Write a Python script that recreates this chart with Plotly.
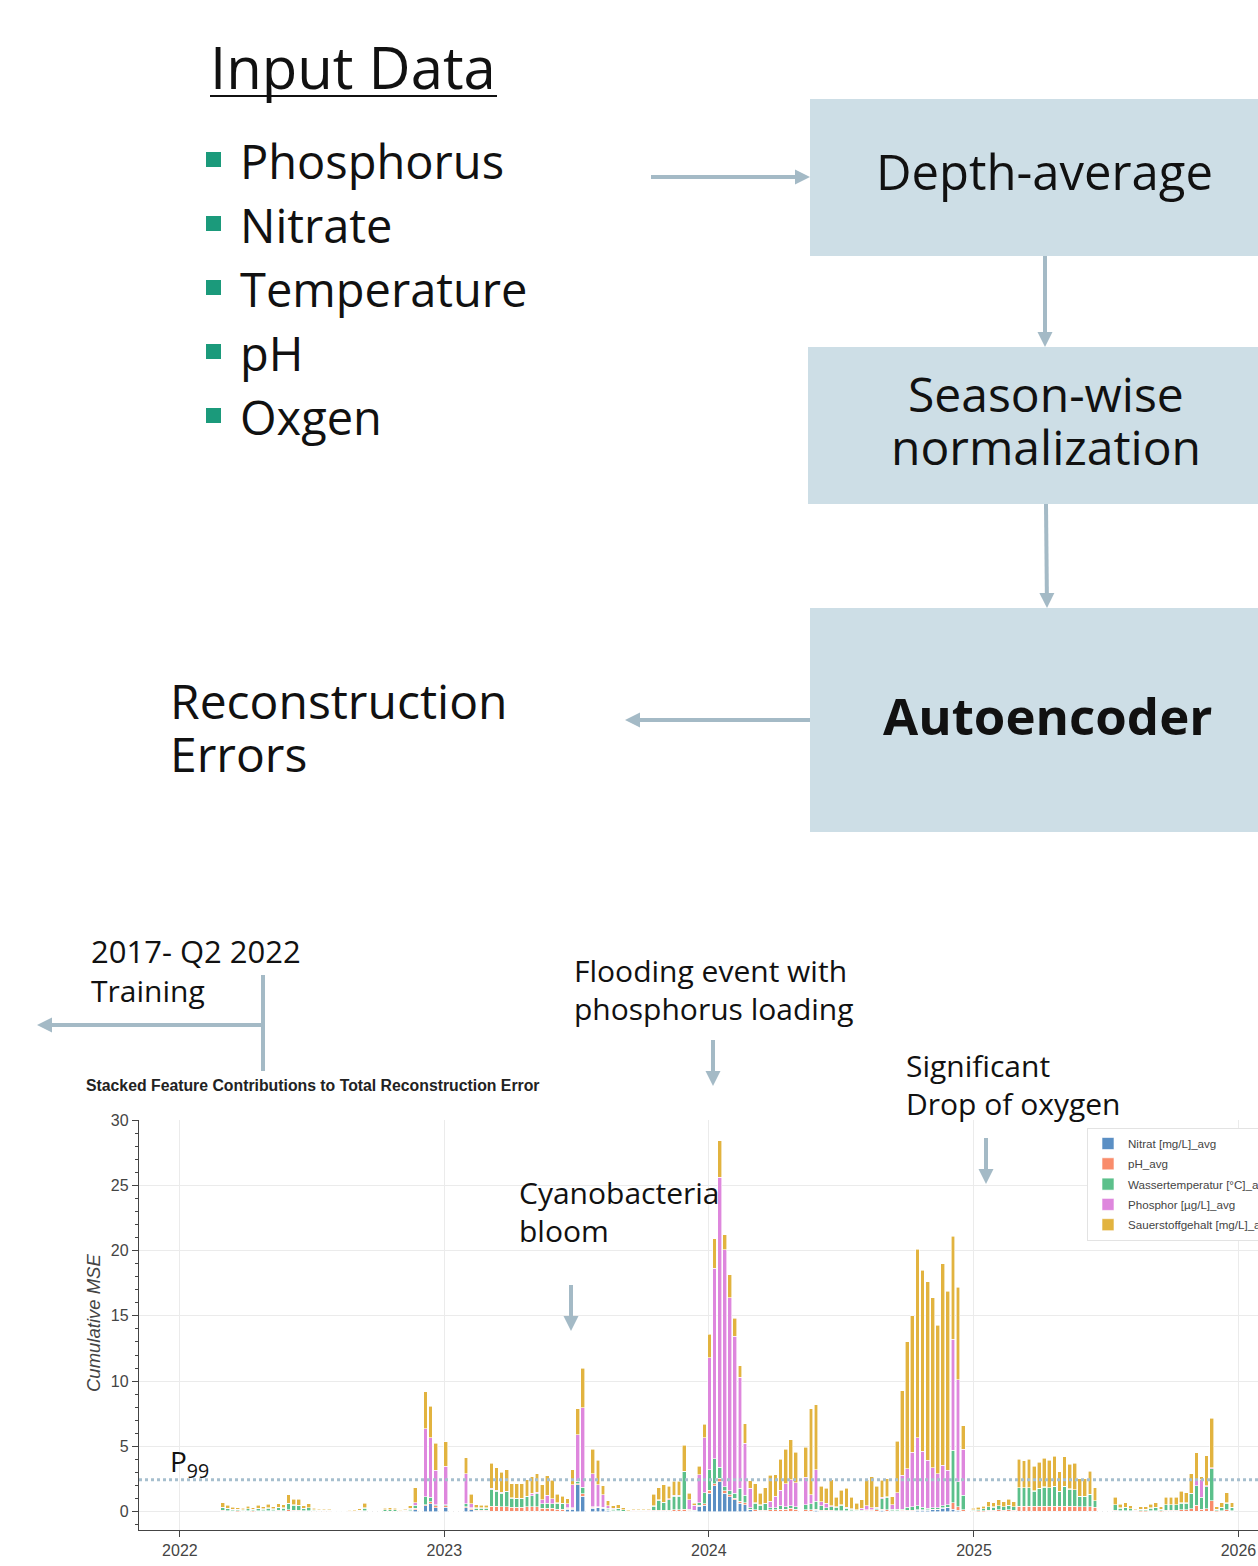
import plotly.graph_objects as go
import pandas as pd

W, H = 1258, 1566

# ---------------- data ----------------
START_DATE = "2022-03-01"   # first weekly sample shown in the chart
SERIES_NAMES = ["Nitrat [mg/L]_avg", "pH_avg", "Wassertemperatur [°C]_avg",
                "Phosphor [µg/L]_avg", "Sauerstoffgehalt [mg/L]_avg"]
SERIES_COLORS = ["#5b8fc4", "#f98c6b", "#5cc08b", "#de87dd", "#e2b33f"]

nitrat = [
    0.03, 0.02, 0.02, 0.01, 0.01, 0.02, 0.01, 0.02, 0.02, 0.02,
    0.02, 0.02, 0.02, 0.03, 0.03, 0.03, 0.02, 0.02, 0.01, 0.01,
    0.01, 0.01, 0, 0, 0, 0, 0.01, 0.01, 0.02, 0,
    0, 0, 0.01, 0.01, 0.01, 0.01, 0.01, 0.02, 0.15, 0,
    0.45, 0.6, 0.3, 0, 0.35, 0, 0, 0, 0.3, 0.15,
    0.02, 0.02, 0.02, 0.03, 0.03, 0.03, 0.03, 0.03, 0.03, 0.03,
    0.03, 0.03, 0.03, 0.05, 0.05, 0.05, 0.05, 0.05, 0.2, 0.2,
    2.05, 1.17, 0, 0.25, 0.3, 0.25, 0.1, 0.03, 0.03, 0.02,
    0.01, 0.01, 0.01, 0.01, 0.01, 0.03, 0.03, 0.03, 0.03, 0.03,
    0.03, 0.05, 0.05, 0.03, 0.43, 0.5, 1.4, 2.0, 2.3, 1.4,
    1.15, 0.9, 0.63, 0.55, 0.15, 0.05, 0.03, 0.03, 0.05, 0.05,
    0.05, 0.05, 0.05, 0.05, 0, 0.05, 0.05, 0.1, 0.05, 0.05,
    0.03, 0.03, 0.03, 0.03, 0.03, 0.02, 0.02, 0.05, 0.05, 0.05,
    0.1, 0.05, 0.03, 0.03, 0.05, 0.05, 0.05, 0.1, 0.1, 0.1,
    0.15, 0.15, 0.25, 0.3, 0.2, 0.1, 0.05, 0, 0.01, 0.01,
    0.01, 0.02, 0.02, 0.02, 0.02, 0.02, 0.02, 0.03, 0.03, 0.03,
    0.03, 0.03, 0.03, 0.03, 0.03, 0.03, 0.03, 0.03, 0.03, 0.03,
    0.03, 0.03, 0.03, 0, 0, 0, 0.02, 0.02, 0.02, 0.02,
    0.01, 0.01, 0.01, 0.02, 0.02, 0.01, 0.02, 0.02, 0.02, 0.02,
    0.02, 0.03, 0.05, 0.03, 0.03, 0.05, 0.01, 0.02, 0.02, 0.02,
]
ph = [
    0.08, 0.06, 0.05, 0.05, 0.04, 0.06, 0.05, 0.06, 0.05, 0.07,
    0.05, 0.08, 0.07, 0.12, 0.1, 0.1, 0.06, 0.07, 0.04, 0.03,
    0.03, 0.03, 0.01, 0.01, 0.01, 0.02, 0.02, 0.03, 0.06, 0,
    0, 0, 0.04, 0.04, 0.04, 0.02, 0.03, 0.05, 0.1, 0,
    0.1, 0.15, 0.15, 0, 0.1, 0, 0, 0, 0.1, 0.1,
    0.08, 0.08, 0.08, 0.4, 0.4, 0.35, 0.35, 0.3, 0.3, 0.3,
    0.35, 0.35, 0.35, 0.2, 0.2, 0.2, 0.15, 0.15, 0.05, 0.05,
    0.1, 0.2, 0, 0.1, 0.05, 0.05, 0.05, 0.04, 0.05, 0.03,
    0.02, 0.02, 0.02, 0.02, 0.02, 0.08, 0.1, 0.1, 0.1, 0.12,
    0.12, 0.15, 0.05, 0.03, 0.05, 0.1, 0.25, 0.15, 0.25, 0.2,
    0.15, 0.15, 0.17, 0.15, 0.05, 0.1, 0.07, 0.07, 0.1, 0.1,
    0.15, 0.15, 0.2, 0.15, 0, 0.1, 0.1, 0.1, 0.05, 0.05,
    0.07, 0.05, 0.05, 0.05, 0.05, 0.03, 0.03, 0.05, 0.05, 0.1,
    0.1, 0.1, 0.05, 0.05, 0.05, 0.05, 0.05, 0.05, 0.05, 0.05,
    0.05, 0.05, 0.05, 0.05, 0.5, 0.3, 0.1, 0, 0.04, 0.05,
    0.06, 0.1, 0.1, 0.12, 0.1, 0.12, 0.1, 0.4, 0.4, 0.4,
    0.4, 0.4, 0.4, 0.4, 0.4, 0.4, 0.4, 0.4, 0.4, 0.35,
    0.35, 0.35, 0.3, 0, 0, 0, 0.1, 0.06, 0.07, 0.05,
    0.02, 0.05, 0.05, 0.06, 0.07, 0.05, 0.1, 0.1, 0.1, 0.12,
    0.12, 0.2, 0.45, 0.17, 0.2, 0.8, 0.05, 0.07, 0.12, 0.07,
]
temperatur = [
    0.2, 0.15, 0.1, 0.1, 0.08, 0.14, 0.1, 0.15, 0.12, 0.18,
    0.12, 0.2, 0.18, 0.45, 0.35, 0.33, 0.15, 0.2, 0.08, 0.06,
    0.06, 0.06, 0.02, 0.03, 0.02, 0.04, 0.05, 0.07, 0.2, 0,
    0, 0, 0.1, 0.1, 0.1, 0.03, 0.07, 0.12, 0.25, 0,
    0.6, 0.35, 0.1, 0, 0.1, 0, 0, 0, 0.2, 0.05,
    0.18, 0.17, 0.17, 1.3, 1.15, 1.05, 1.15, 0.7, 0.65, 0.65,
    0.75, 0.85, 1.0, 0.35, 0.4, 0.35, 0.45, 0.4, 0.05, 0.05,
    0.2, 0.5, 0, 0.05, 0.05, 0.05, 0.1, 0.13, 0.15, 0.1,
    0.05, 0.06, 0.07, 0.07, 0.06, 0.3, 0.75, 0.55, 0.8, 1.05,
    1.05, 2.85, 0.1, 0.05, 0.22, 0.85, 1.55, 1.9, 0.85, 0.3,
    0.3, 0.35, 0.98, 0.57, 0.1, 0.48, 0.4, 0.5, 0.15, 0.15,
    0.25, 0.2, 0.2, 0.2, 0, 0.4, 0.45, 0.6, 0.35, 0.2,
    0.3, 0.25, 0.4, 0.2, 0.1, 0.05, 0.05, 0.05, 0.05, 0.1,
    0.8, 0.95, 0.1, 0.1, 0.1, 0.25, 0.3, 0.3, 0.2, 0.1,
    0.1, 0.1, 0.15, 0.2, 4.0, 1.9, 1.12, 0, 0.08, 0.1,
    0.14, 0.25, 0.23, 0.3, 0.25, 0.33, 0.25, 1.4, 1.4, 1.4,
    1.15, 1.35, 1.45, 1.4, 1.5, 1.1, 1.5, 1.3, 1.25, 0.8,
    0.8, 0.95, 0.5, 0, 0, 0, 0.4, 0.2, 0.25, 0.15,
    0.06, 0.12, 0.12, 0.2, 0.25, 0.12, 0.4, 0.4, 0.4, 0.5,
    0.5, 1.15, 1.5, 0.9, 1.7, 2.45, 0.12, 0.25, 0.5, 0.25,
]
phosphor = [
    0.04, 0.03, 0.02, 0.02, 0.02, 0.02, 0.02, 0.03, 0.02, 0.03,
    0.02, 0.03, 0.03, 0.05, 0.04, 0.04, 0.02, 0.03, 0.02, 0.01,
    0.01, 0.01, 0, 0, 0, 0.01, 0.01, 0.01, 0.03, 0,
    0, 0, 0.02, 0.02, 0.02, 0.01, 0.02, 0.06, 0.2, 0,
    5.2, 4.55, 2.62, 0, 2.93, 0, 0, 0, 2.3, 0.3,
    0.03, 0.03, 0.03, 0.05, 0.05, 0.05, 0.05, 0.05, 0.05, 0.05,
    0.05, 0.2, 0.1, 0.3, 0.6, 0.4, 0.05, 0.05, 0.3, 1.75,
    3.55, 6.1, 0, 2.5, 1.65, 0.95, 0.2, 0.05, 0.05, 0.02,
    0.01, 0.01, 0.01, 0.01, 0.01, 0.04, 0.05, 0.05, 0.05, 0.05,
    0.05, 0.05, 0.7, 0.4, 2.15, 4.2, 8.6, 14.6, 22.2, 18.15,
    14.8, 12.05, 8.5, 3.98, 1.48, 0.05, 0.05, 0.05, 0.5, 0.9,
    1.2, 1.76, 2.0, 1.8, 0, 2.1, 0.7, 2.4, 0.3, 0.35,
    0.05, 0.05, 0.05, 0.05, 0.05, 0.05, 0.15, 0.3, 0.15, 0.1,
    0.1, 0.05, 0.35, 1.27, 2.6, 2.95, 4.17, 5.21, 4.27, 3.68,
    3.07, 2.6, 3.1, 2.62, 8.5, 7.8, 3.53, 0, 0.01, 0.01,
    0.02, 0.02, 0.02, 0.03, 0.02, 0.03, 0.02, 0.02, 0.02, 0.02,
    0.02, 0.02, 0.02, 0.02, 0.02, 0.02, 0.02, 0.02, 0.02, 0.02,
    0.02, 0.02, 0.02, 0, 0, 0, 0.02, 0.02, 0.02, 0.02,
    0.01, 0.02, 0.02, 0.02, 0.02, 0.02, 0.02, 0.02, 0.02, 0.03,
    0.03, 0.05, 0.5, 1.36, 0.05, 0.05, 0.02, 0.02, 0.03, 0.02,
]
sauerstoff = [
    0.35, 0.24, 0.14, 0.12, 0.1, 0.19, 0.12, 0.22, 0.17, 0.26,
    0.17, 0.27, 0.23, 0.65, 0.44, 0.46, 0.2, 0.28, 0.1, 0.09,
    0.09, 0.09, 0.02, 0.04, 0.02, 0.05, 0.06, 0.1, 0.32, 0,
    0, 0, 0.11, 0.13, 0.11, 0.03, 0.07, 0.2, 1.15, 0,
    2.85, 2.42, 2.08, 0, 1.87, 0, 0, 0, 1.24, 0.75,
    0.22, 0.2, 0.2, 1.92, 1.75, 1.54, 1.64, 1.08, 1.13, 1.13,
    1.26, 1.23, 1.44, 1.15, 1.52, 1.4, 0.65, 0.52, 0.4, 1.17,
    2.0, 3.03, 0, 1.9, 1.88, 0.7, 0.4, 0.2, 0.27, 0.13,
    0.06, 0.08, 0.09, 0.09, 0.08, 0.9, 0.92, 1.35, 0.97, 1.1,
    1.1, 2.0, 0.5, 0.12, 0.65, 1.05, 1.8, 2.25, 2.8, 1.15,
    1.75, 1.35, 0.89, 1.48, 0.58, 1.48, 0.85, 1.18, 2.0, 1.64,
    2.35, 2.64, 3.05, 2.37, 0, 2.3, 6.57, 5.0, 1.2, 1.13,
    2.01, 0.72, 1.12, 1.45, 0.87, 0.48, 0.65, 2.01, 2.36, 1.6,
    1.3, 1.39, 0.61, 3.95, 6.46, 9.7, 10.43, 14.44, 13.88, 13.67,
    13.03, 11.4, 15.45, 13.73, 7.9, 7.1, 1.8, 0, 0.11, 0.16,
    0.2, 0.37, 0.33, 0.43, 0.37, 0.46, 0.37, 2.15, 2.05, 2.15,
    1.88, 2.0, 2.2, 2.08, 2.29, 1.5, 2.25, 1.88, 2.03, 1.34,
    1.34, 1.75, 1.0, 0, 0, 0, 0.56, 0.28, 0.34, 0.22,
    0.08, 0.18, 0.18, 0.26, 0.34, 0.18, 0.56, 0.56, 0.56, 0.9,
    0.8, 1.49, 2.0, 0.2, 2.32, 3.8, 0.18, 0.32, 0.78, 0.32,
]
P99 = 2.45
YEAR_TICKS = ["2022-01-01", "2023-01-01", "2024-01-01", "2025-01-01", "2026-01-01"]
YEAR_LABELS = ["2022", "2023", "2024", "2025", "2026"]
INPUT_FEATURES = ["Phosphorus", "Nitrate", "Temperature", "pH", "Oxgen"]

# ---------------- helpers ----------------
def X(px):
    return px / W

def Y(py):
    return 1 - py / H

BOX = "#cddee6"
ARROW = "#a4bac6"
SLIDE_FONT = "Open Sans"
CHART_FONT = "Liberation Sans, Arial, sans-serif"

dates = pd.date_range(START_DATE, periods=len(nitrat), freq="7D")
series = [nitrat, ph, temperatur, phosphor, sauerstoff]

fig = go.Figure()
for name, vals, col in zip(SERIES_NAMES, series, SERIES_COLORS):
    fig.add_trace(go.Bar(x=dates, y=vals, name=name, legendgroup=name,
                         marker=dict(color=col, line=dict(color="white", width=0.6))))

shapes = []
annotations = []

def rect(x0, y0, x1, y1, color):
    shapes.append(dict(type="rect", xref="paper", yref="paper",
                       x0=X(x0), x1=X(x1), y0=Y(y1), y1=Y(y0),
                       fillcolor=color, line=dict(width=0), layer="below"))

def seg(x0, y0, x1, y1, color=ARROW, width=4):
    shapes.append(dict(type="line", xref="paper", yref="paper",
                       x0=X(x0), y0=Y(y0), x1=X(x1), y1=Y(y1),
                       line=dict(color=color, width=width)))

def arrow(x0, y0, x1, y1, head=15, half=7.5):
    dx, dy = x1 - x0, y1 - y0
    L = (dx * dx + dy * dy) ** 0.5
    ux, uy = dx / L, dy / L
    bx, by = x1 - ux * head, y1 - uy * head
    seg(x0, y0, bx, by)
    px, py = -uy, ux
    p = "M {} {} L {} {} L {} {} Z".format(
        X(x1), Y(y1), X(bx + px * half), Y(by + py * half),
        X(bx - px * half), Y(by - py * half))
    shapes.append(dict(type="path", xref="paper", yref="paper", path=p,
                       fillcolor=ARROW, line=dict(color=ARROW, width=0)))

def text(t, x, y, size, anchor="left", bold=False, family=SLIDE_FONT, color="#111"):
    annotations.append(dict(text=("<b>%s</b>" % t) if bold else t,
                            xref="paper", yref="paper", x=X(x), y=Y(y),
                            xanchor=anchor, yanchor="middle", showarrow=False,
                            font=dict(family=family, size=size, color=color)))

# ---- flow diagram ----
rect(810, 99, 1270, 256, BOX)
rect(808, 347, 1270, 504, BOX)
rect(810, 608, 1270, 832, BOX)

text("Input Data", 208, 66, 58)
seg(210, 96, 497, 96, color="#111", width=2)
for i, feat in enumerate(INPUT_FEATURES):
    yc = 160 + i * 64
    rect(206, yc - 8, 221, yc + 7, "#1b9a7b")
    text(feat, 238, yc + 1, 47)

text("Depth-average", 1044, 171, 49, anchor="center")
text("Season-wise", 1046, 394, 48, anchor="center")
text("normalization", 1046, 447, 48, anchor="center")
text("Autoencoder", 1047, 715, 51, anchor="center", bold=True)
text("Reconstruction", 168, 700, 48)
text("Errors", 168, 754, 48)

arrow(651, 177, 810, 177)
arrow(1045, 256, 1045, 347)
arrow(1046, 504, 1047, 608)
arrow(810, 720, 625, 720)

# ---- chart annotations ----
text("2017- Q2 2022", 89, 951, 31)
text("Training", 89, 990, 30)
seg(263, 975, 263, 1071)
arrow(263, 1025, 37, 1025)
text("Flooding event with", 572, 970, 30)
text("phosphorus loading", 572, 1009, 30)
arrow(713, 1040, 713, 1086)
text("Significant", 904, 1065, 30)
text("Drop of oxygen", 904, 1103, 30)
arrow(986, 1138, 986, 1184)
text("Cyanobacteria", 517, 1192, 30)
text("bloom", 517, 1230, 30)
arrow(571, 1285, 571, 1331)
text("P<sub>99</sub>", 168, 1463, 28)

# chart title and y title
annotations.append(dict(text="<b>Stacked Feature Contributions to Total Reconstruction Error</b>",
                        xref="paper", yref="paper", x=X(84), y=Y(1085),
                        xanchor="left", yanchor="middle", showarrow=False,
                        font=dict(family=CHART_FONT, size=15.8, color="#222")))
annotations.append(dict(text="<i>Cumulative MSE</i>", textangle=-90,
                        xref="paper", yref="paper", x=X(93), y=Y(1323),
                        xanchor="center", yanchor="middle", showarrow=False,
                        font=dict(family=CHART_FONT, size=18.5, color="#444")))

# P99 threshold line
shapes.append(dict(type="line", xref="paper", yref="y", x0=X(139), x1=1,
                   y0=P99, y1=P99, line=dict(color="#a6bfce", width=3, dash="dot")))

fig.update_layout(
    width=W, height=H,
    margin=dict(l=0, r=0, t=0, b=0, autoexpand=False),
    paper_bgcolor="white", plot_bgcolor="white",
    barmode="stack", bargap=0.25,
    shapes=shapes, annotations=annotations,
    showlegend=True,
    legend=dict(x=X(1087), y=Y(1128), xanchor="left", yanchor="top",
                traceorder="grouped", tracegroupgap=1.3, bgcolor="white",
                bordercolor="#e3e3e3", borderwidth=1,
                font=dict(family=CHART_FONT, size=11.6, color="#444"),
                itemwidth=30),
    xaxis=dict(type="date", domain=[X(139), 1],
               range=["2021-11-05 14:00", "2026-01-28"],
               tickvals=YEAR_TICKS, ticktext=YEAR_LABELS,
               ticks="outside", ticklen=6, tickcolor="#444",
               showline=True, linecolor="#444", linewidth=1.3,
               showgrid=True, gridcolor="#ebebeb", zeroline=False,
               tickfont=dict(family=CHART_FONT, size=16, color="#444"),
               anchor="y"),
    yaxis=dict(domain=[Y(1530), Y(1120)], range=[-1.4, 30],
               tick0=0, dtick=5, ticks="outside", ticklen=6, tickcolor="#444",
               minor=dict(dtick=1, ticks="outside", ticklen=3, tickcolor="#444", showgrid=False),
               showline=True, linecolor="#444", linewidth=1.3,
               showgrid=True, gridcolor="#ebebeb", zeroline=False,
               tickfont=dict(family=CHART_FONT, size=16, color="#444"),
               anchor="x"),
)

fig.write_html("out.html", config={"displayModeBar": False},
               post_script="document.body.style.margin='0px';document.body.style.overflow='hidden';")
